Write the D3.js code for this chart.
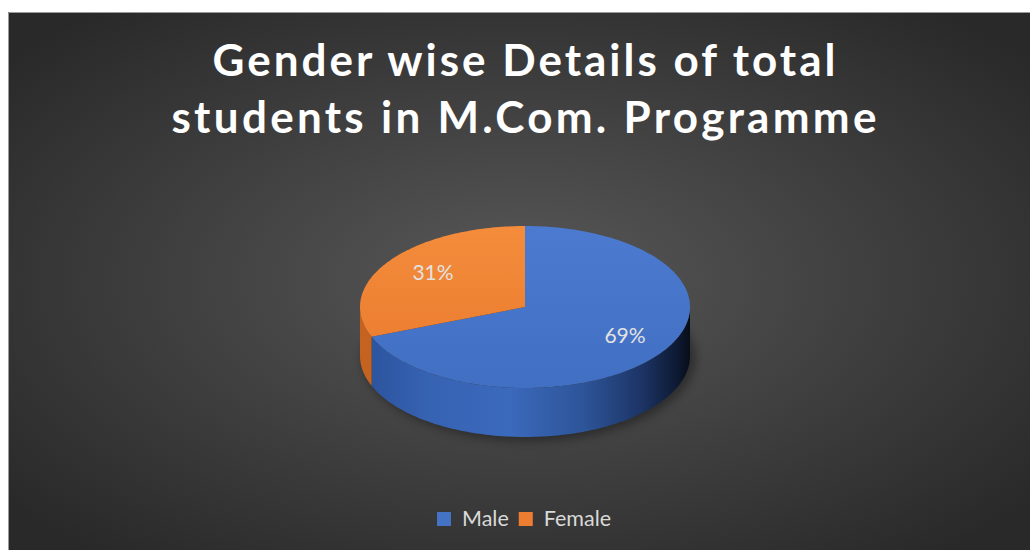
<!DOCTYPE html>
<html>
<head>
<meta charset="utf-8">
<script src="https://cdn.jsdelivr.net/npm/d3@7"></script>
<style>
  body { margin: 0; background: #fff; }
  svg { display: block; }
</style>
</head>
<body>
<div id="chart"></div>
<script>
// Gender split of M.Com. students, drawn as an Excel-style 3D pie
const categories = ["Male", "Female"];
const values = [69, 31];
const colors = ["#4472C4", "#ED7D31"];
const titleLines = ["Gender wise Details of total", "students in M.Com. Programme"];

const width = 1030, height = 550;
const cx = 525, cy = 307, rx = 165, ry = 81, depth = 49;
const font = "Lato, 'Open Sans', sans-serif";

const svg = d3.select("#chart")
  .append("svg")
  .attr("width", width)
  .attr("height", height);

const defs = svg.append("defs");

// background gradient
const bg = defs.append("radialGradient")
  .attr("id", "bg")
  .attr("cx", "50%").attr("cy", "50%").attr("r", "65%");
bg.append("stop").attr("offset", "0%").attr("stop-color", "#585858");
bg.append("stop").attr("offset", "100%").attr("stop-color", "#292929");

// side gradients (horizontal light falloff)
const sideStops = {
  Male: [[0, "#2b529a"], [0.2, "#3662b2"], [0.45, "#3b69bc"], [0.68, "#2d5498"], [0.85, "#1d3567"], [0.96, "#0e1a33"], [1, "#080d18"]],
  Female: [[0, "#c4621f"], [1, "#d46c24"]]
};
categories.forEach(c => {
  const g = defs.append("linearGradient")
    .attr("id", "side-" + c)
    .attr("gradientUnits", "userSpaceOnUse")
    .attr("x1", cx - rx).attr("x2", cx + rx).attr("y1", 0).attr("y2", 0);
  sideStops[c].forEach(s => g.append("stop").attr("offset", s[0]).attr("stop-color", s[1]));
});

// top face gradients
const topStops = {
  Male: [["#4b7ad0", 0], ["#416fc2", 1]],
  Female: [["#f48c3c", 0], ["#e9792c", 1]]
};
categories.forEach(c => {
  const g = defs.append("linearGradient")
    .attr("id", "top-" + c)
    .attr("gradientUnits", "userSpaceOnUse")
    .attr("x1", 0).attr("x2", 0).attr("y1", cy - ry).attr("y2", cy + ry);
  topStops[c].forEach(s => g.append("stop").attr("offset", s[1]).attr("stop-color", s[0]));
});

const blur = defs.append("filter").attr("id", "shadow")
  .attr("x", "-20%").attr("y", "-20%").attr("width", "140%").attr("height", "140%");
blur.append("feGaussianBlur").attr("stdDeviation", 5);

// page frame
svg.append("rect")
  .attr("x", 8).attr("y", 12)
  .attr("width", width - 8).attr("height", height - 12)
  .attr("fill", "url(#bg)");
svg.append("path")
  .attr("d", `M8.5,${height} V12.5 H${width}`)
  .attr("fill", "none")
  .attr("stroke", "#9a9a9a")
  .attr("stroke-width", 1);

// title
svg.append("g")
  .selectAll("text")
  .data(titleLines)
  .enter()
  .append("text")
    .attr("x", 524)
    .attr("y", (d, i) => 76 + i * 57)
    .attr("text-anchor", "middle")
    .attr("textLength", (d, i) => [623, 705][i])
    .attr("lengthAdjust", "spacing")
    .attr("font-family", font)
    .attr("font-weight", "bold")
    .attr("font-size", "44px")
    .attr("fill", "#ffffff")
    .text(d => d);

// pie geometry
const data = categories.map((c, i) => ({ cat: c, value: values[i], color: colors[i] }));
const pie = d3.pie().sort(null).value(d => d.value);
const arcs = pie(data);

const pt = (a, z = 0) => [cx + rx * Math.sin(a), cy - ry * Math.cos(a) + z];

function arcPoints(a0, a1, z) {
  const n = Math.max(2, Math.ceil(Math.abs(a1 - a0) / 0.02));
  return d3.range(n + 1).map(k => pt(a0 + (a1 - a0) * k / n, z));
}

const line = d3.line();

// soft shadow under the pie
svg.append("ellipse")
  .attr("cx", cx + 4).attr("cy", cy + depth + 2)
  .attr("rx", rx + 2).attr("ry", ry + 2)
  .attr("fill", "#000")
  .attr("opacity", 0.35)
  .attr("filter", "url(#shadow)");

// side walls: only the front half (angle between pi/2 and 3pi/2)
const pieG = svg.append("g");
arcs.forEach(d => {
  const a0 = Math.max(d.startAngle, Math.PI / 2);
  const a1 = Math.min(d.endAngle, 3 * Math.PI / 2);
  if (a1 <= a0) return;
  const topEdge = arcPoints(a0, a1, 0);
  const botEdge = arcPoints(a1, a0, depth);
  pieG.append("path")
    .attr("d", line(topEdge.concat(botEdge)) + "Z")
    .attr("fill", `url(#side-${d.data.cat})`);
});

// top faces
arcs.forEach(d => {
  const pts = [[cx, cy]].concat(arcPoints(d.startAngle, d.endAngle, 0));
  pieG.append("path")
    .attr("d", line(pts) + "Z")
    .attr("fill", `url(#top-${d.data.cat})`);
});

// value labels
const labelPos = { Male: [625, 343], Female: [433, 280] };
pieG.selectAll("text.lbl")
  .data(arcs)
  .enter()
  .append("text")
    .attr("class", "lbl")
    .attr("x", d => labelPos[d.data.cat][0])
    .attr("y", d => labelPos[d.data.cat][1])
    .attr("text-anchor", "middle")
    .attr("font-family", font)
    .attr("font-size", "21px")
    .attr("fill", "#e2e2e2")
    .text(d => d.data.value + "%");

// legend
const legend = svg.append("g");
const legendY = 518;
let lx = 437;
data.forEach(d => {
  legend.append("rect")
    .attr("x", lx).attr("y", legendY - 6)
    .attr("width", 14).attr("height", 14)
    .attr("fill", d.color);
  const t = legend.append("text")
    .attr("x", lx + 25)
    .attr("y", legendY + 8)
    .attr("font-family", font)
    .attr("font-size", "21.5px")
    .attr("fill", "#d9d9d9")
    .text(d.cat);
  lx += 25 + t.node().getComputedTextLength() + 10;
});
</script>
</body>
</html>
